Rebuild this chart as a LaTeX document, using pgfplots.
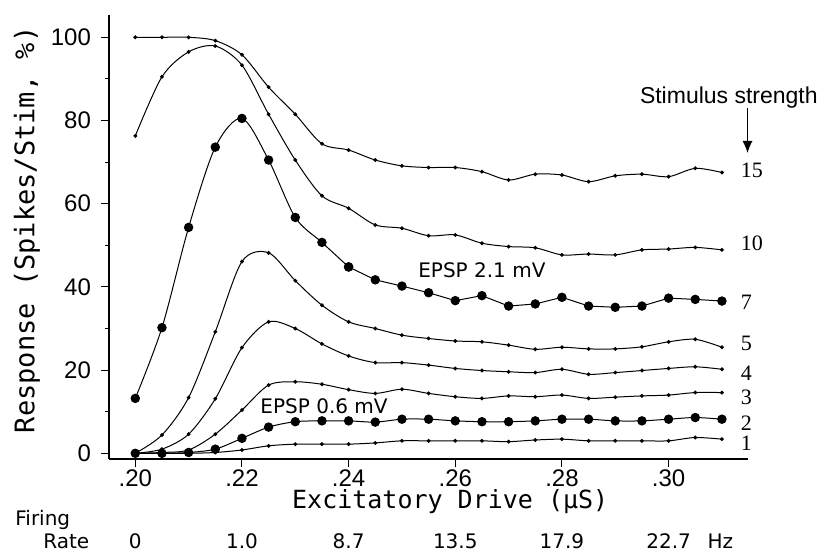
\documentclass[border=0pt]{standalone}
\usepackage{fontspec}
\setmainfont{Liberation Sans}
\newfontfamily\monofont{DejaVu Sans Mono}
\newfontfamily\seriffont{Liberation Serif}
\newfontfamily\djfont{DejaVu Sans}
\usepackage{pgfplots}
\usepackage{pgfplotstable}
\usetikzlibrary{arrows.meta}
\pgfplotsset{compat=1.18}
\pgfplotstableread{
x     s15   s10   s7    s5    s4    s3    s2   s1
0.200 100   76.3  13.2  0     0     0     0    0
0.205 100   90.5  30.2  4.4   1.0   0.2   0    0
0.210 100   96.5  54.3  13.4  4.6   0.8   0.2  0
0.215 99.2  97.9  73.6  29.2  13.1  4.6   1.0  0.2
0.220 95.8  93.3  80.5  46.1  25.4  10.4  3.6  0.8
0.225 88.0  81.5  70.5  48.2  31.6  16.4  6.3  1.8
0.230 81.5  70.5  56.7  41.5  30.0  17.2  7.6  2.2
0.235 74.4  61.9  50.7  35.6  26.3  16.6  7.8  2.2
0.240 72.9  58.9  44.8  31.6  23.4  15.3  7.8  2.2
0.245 70.5  54.9  41.7  30.0  21.8  14.4  7.5  2.5
0.250 69.1  54.1  40.2  28.4  21.8  15.4  8.2  3.0
0.255 68.7  52.3  38.6  27.6  21.2  14.4  8.2  3.0
0.260 68.7  52.5  36.7  27.0  20.4  13.6  7.8  3.0
0.265 67.7  50.5  37.9  26.8  19.9  13.2  7.6  3.0
0.270 65.7  49.7  35.4  26.0  19.6  13.8  7.6  2.8
0.275 67.1  49.4  35.9  25.0  19.4  13.6  7.8  3.2
0.280 66.9  47.7  37.5  25.5  20.2  14.0  8.2  3.4
0.285 65.3  47.9  35.4  25.1  19.0  13.2  8.2  3.0
0.290 66.7  47.7  35.1  25.1  19.4  13.5  7.8  3.0
0.295 67.1  48.9  35.4  25.6  19.9  13.8  7.8  3.0
0.300 66.5  49.1  37.3  26.8  20.4  14.0  8.2  3.0
0.305 68.5  49.5  37.0  27.4  20.8  14.6  8.6  3.8
0.310 67.5  48.9  36.6  25.5  20.2  14.6  8.2  3.4
}\datatable
\pgfplotstableread{
x     y
0.240 44.8
0.245 41.7
0.250 40.2
0.255 38.6
0.260 36.7
0.265 37.9
0.270 35.4
0.275 35.9
0.280 37.5
0.285 35.4
0.290 35.1
0.295 35.4
0.300 37.3
0.305 37.0
0.310 36.6
}\sevtail
\pgfplotstableread{
x     y
0.200 13.2
0.205 30.2
0.210 54.3
0.215 73.6
0.220 80.5
0.225 70.5
0.230 56.7
0.235 50.7
0.240 44.8
}\sevhead
\begin{document}
\begin{tikzpicture}
\useasboundingbox (0,0) rectangle (412.5pt,277pt);
\begin{axis}[
  at={(54.5pt,47.5pt)}, anchor=south west,
  scale only axis, width=319.5pt, height=222pt,
  xmin=0.19507, xmax=0.31489, ymin=-1.37, ymax=105.36,
  axis lines*=left, axis line style={line width=0.6pt},
  clip=false,
  tick align=outside,
  xtick={0.20,0.22,0.24,0.26,0.28,0.30},
  xticklabels={.20,.22,.24,.26,.28,.30},
  ytick={0,20,40,60,80,100},
  minor ytick={10,30,50,70,90},
  major tick length=4pt, minor tick length=2pt,
  tick style={line width=0.5pt, black},
  tick label style={font=\fontsize{12}{13}\selectfont},
  yticklabel style={xshift=-1.5pt},
  xticklabel style={yshift=2pt},
  /pgf/number format/assume math mode=true,
  xlabel={Excitatory Drive (µS)},
  ylabel={Response (Spikes/Stim, \%)},
  xlabel style={font=\monofont\fontsize{12.5}{14}\selectfont, at={(axis description cs:0.534,0)}, anchor=center, yshift=-21.5pt},
  ylabel style={font=\monofont\fontsize{13.5}{15}\selectfont, at={(axis description cs:0,0.516)}, anchor=center, yshift=41pt},
  every axis plot/.append style={line width=0.5pt, black},
  thin/.style={smooth, mark=*, mark size=0.7pt},
  big/.style={mark=*, mark size=2.1pt},
]
\addplot[thin] table[x=x,y=s15] {\datatable};
\addplot[thin] table[x=x,y=s10] {\datatable};
\addplot[big, smooth] table[x=x,y=y] {\sevhead};
\addplot[big] table[x=x,y=y] {\sevtail};
\addplot[thin] table[x=x,y=s5] {\datatable};
\addplot[thin] table[x=x,y=s4] {\datatable};
\addplot[thin] table[x=x,y=s3] {\datatable};
\addplot[big, smooth] table[x=x,y=s2] {\datatable};
\addplot[thin] table[x=x,y=s1] {\datatable};
% right labels
\node[anchor=west, font=\seriffont\fontsize{11}{12}\selectfont, inner sep=0pt] at (axis cs:0.3135,68.1) {15};
\node[anchor=west, font=\seriffont\fontsize{11}{12}\selectfont, inner sep=0pt] at (axis cs:0.3135,50.6) {10};
\node[anchor=west, font=\seriffont\fontsize{11}{12}\selectfont, inner sep=0pt] at (axis cs:0.3135,36.2) {7};
\node[anchor=west, font=\seriffont\fontsize{11}{12}\selectfont, inner sep=0pt] at (axis cs:0.3135,26.5) {5};
\node[anchor=west, font=\seriffont\fontsize{11}{12}\selectfont, inner sep=0pt] at (axis cs:0.3135,19.3) {4};
\node[anchor=west, font=\seriffont\fontsize{11}{12}\selectfont, inner sep=0pt] at (axis cs:0.3135,13.5) {3};
\node[anchor=west, font=\seriffont\fontsize{11}{12}\selectfont, inner sep=0pt] at (axis cs:0.3135,7.3) {2};
\node[anchor=west, font=\seriffont\fontsize{11}{12}\selectfont, inner sep=0pt] at (axis cs:0.3135,2.5) {1};
\node[font=\fontsize{11.5}{12}\selectfont] at (axis cs:0.3113,85.6) {Stimulus strength};
\draw[-{Latex[length=6pt,width=5pt]}, line width=0.5pt] (axis cs:0.3148,83.0) -- (axis cs:0.3148,72.2);
\node[anchor=west, font=\djfont\fontsize{10}{11}\selectfont, inner sep=0pt] at (axis cs:0.2530,44.1) {EPSP\ 2.1\ mV};
\node[anchor=west, font=\djfont\fontsize{10}{11}\selectfont, inner sep=0pt] at (axis cs:0.2234,11.4) {EPSP\ 0.6\ mV};
% firing rates
\node[font=\djfont\fontsize{10}{11}\selectfont, inner sep=0pt, yshift=-41pt] at (axis cs:0.20,-1.37) {0};
\node[font=\djfont\fontsize{10}{11}\selectfont, inner sep=0pt, yshift=-41pt] at (axis cs:0.22,-1.37) {1.0};
\node[font=\djfont\fontsize{10}{11}\selectfont, inner sep=0pt, yshift=-41pt] at (axis cs:0.24,-1.37) {8.7};
\node[font=\djfont\fontsize{10}{11}\selectfont, inner sep=0pt, yshift=-41pt] at (axis cs:0.26,-1.37) {13.5};
\node[font=\djfont\fontsize{10}{11}\selectfont, inner sep=0pt, yshift=-41pt] at (axis cs:0.28,-1.37) {17.9};
\node[font=\djfont\fontsize{10}{11}\selectfont, inner sep=0pt, yshift=-41pt] at (axis cs:0.30,-1.37) {22.7};
\node[font=\djfont\fontsize{10}{11}\selectfont, inner sep=0pt, yshift=-41pt] at (axis cs:0.3097,-1.37) {Hz};
\end{axis}
\node[anchor=west, font=\djfont\fontsize{10}{11}\selectfont, inner sep=0pt] at (7.5pt,17pt) {Firing};
\node[anchor=west, font=\djfont\fontsize{10}{11}\selectfont, inner sep=0pt] at (21.5pt,6.5pt) {Rate};
\end{tikzpicture}
\end{document}
